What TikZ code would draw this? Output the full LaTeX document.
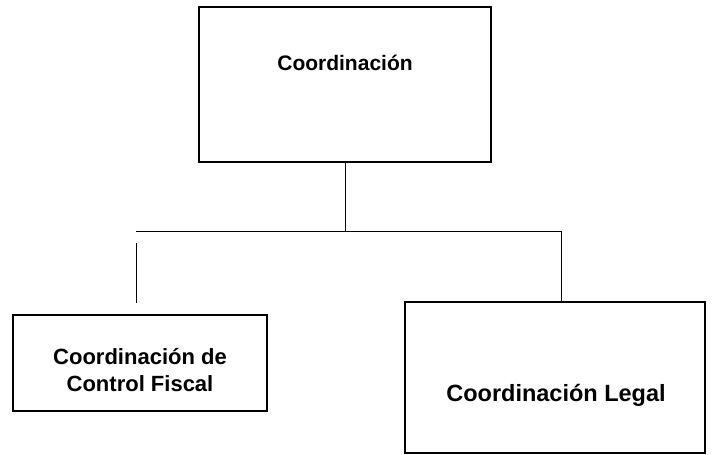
\documentclass[tikz,border=0pt]{standalone}
\usepackage{fontspec}
\setmainfont{Liberation Sans}
\begin{document}
\begin{tikzpicture}[x=1pt,y=-1pt]
            \tikzset{
            org box/.style={rectangle,draw,line width=2pt,inner sep=0},
            org text/.style={font=\bfseries,align=center,inner sep=0},
            org line/.style={draw,line width=1pt}
            }
            \useasboundingbox (0,0) rectangle (712,455);
            \node[org box,minimum width=292pt,minimum height=155pt] (coord) at (345, 84.5) {};
            \node[org box,minimum width=254pt,minimum height=96pt] (fiscal) at (140, 363) {};
            \node[org box,minimum width=300pt,minimum height=151pt] (legal) at (555, 377.5) {};
            \node[org text,font=\fontsize{21}{25}\selectfont\bfseries] (coord txt) at (345, 63) {Coordinación};
            \node[org text,font=\fontsize{22}{27}\selectfont\bfseries] (fiscal txt) at (140, 370) {Coordinación de\\Control Fiscal};
            \node[org text,font=\fontsize{23.5}{28}\selectfont\bfseries] (legal txt) at (556, 395) {Coordinación Legal};
            \coordinate (bar left) at (136, 231);
            \coordinate (bar right) at (561, 231);
            \coordinate (stub top) at (136, 243);
            \coordinate (stub bottom) at (136, 303);

            \path[org line]
            (coord.south) -- (coord.south |- bar left)
            (bar left) -- (bar right)
            (bar right) -- (legal.north -| bar right)
            (stub top) -- (stub bottom)
            ;
        \end{tikzpicture}
\end{document}
